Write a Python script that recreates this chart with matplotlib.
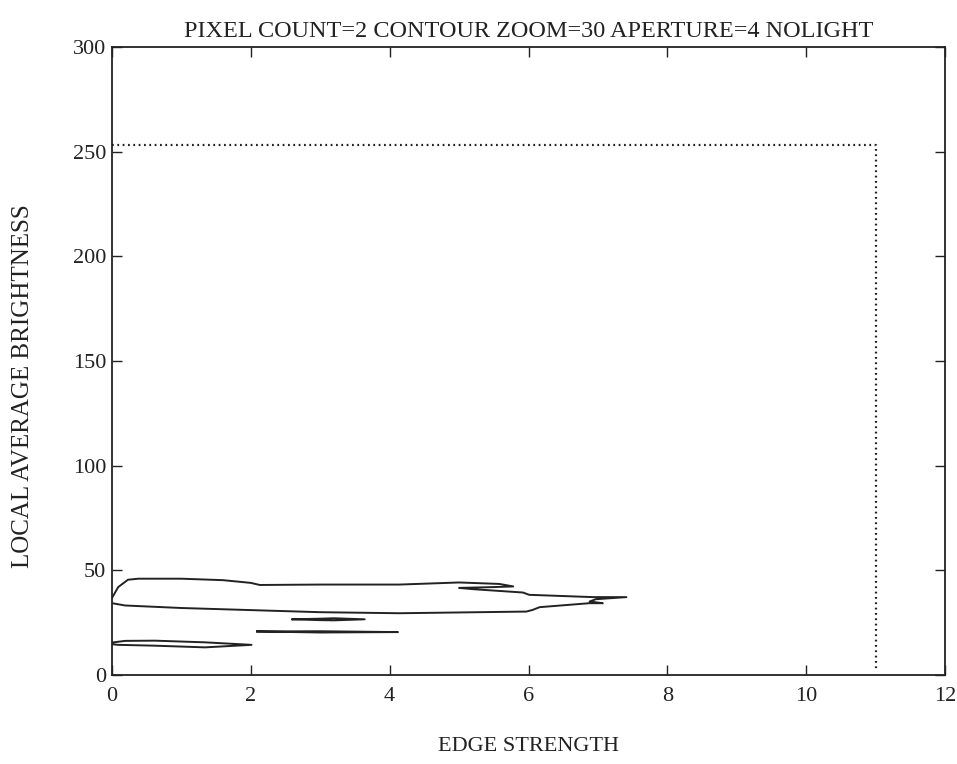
import numpy as np
import matplotlib.pyplot as plt

plt.rcParams["font.family"] = ["Liberation Serif", "DejaVu Serif"]

# main contour (open at the x=0 edge)
main_x = [0.0, 0.09, 0.23, 0.38, 1.0, 1.6, 2.0, 2.13, 3.0, 4.14, 5.0, 5.58, 5.78,
          5.5, 5.0, 5.2, 5.92, 6.01, 6.93, 7.41, 6.97, 6.88, 7.07, 6.88, 6.16,
          6.06, 5.97, 4.14, 3.0, 2.2, 1.0, 0.19, 0.0]
main_y = [36.8, 42.0, 45.5, 46.0, 46.0, 45.3, 44.0, 43.0, 43.2, 43.2, 44.2, 43.5, 42.3,
          42.0, 41.6, 41.0, 39.4, 38.3, 37.2, 37.2, 36.2, 35.1, 34.3, 34.3, 32.4,
          31.1, 30.3, 29.5, 30.0, 30.8, 32.0, 33.2, 34.3]

# bottom lens
low_x = [0.0, 0.19, 0.62, 1.34, 2.01, 1.34, 0.62, 0.09, 0.0]
low_y = [15.5, 16.3, 16.4, 15.6, 14.4, 13.2, 14.0, 14.4, 14.7]

# small loop around y=26
mid_x = [2.6, 3.0, 3.2, 3.64, 3.2, 3.0, 2.6]
mid_y = [26.6, 26.9, 27.1, 26.6, 26.1, 26.2, 26.6]

# thin loop around y=20
thin_x = [2.09, 3.0, 4.12, 3.0, 2.09]
thin_y = [20.8, 20.9, 20.5, 20.3, 20.8]

# dotted limit
lim_x = [0, 11, 11]
lim_y = [253, 253, 3]

fig = plt.figure(figsize=(9.57, 7.64), dpi=100)
ax = fig.add_axes([0.117, 0.1165, 0.8705, 0.822])

for xs, ys in [(main_x, main_y), (low_x, low_y), (mid_x, mid_y), (thin_x, thin_y)]:
    ax.plot(xs, ys, color="#222222", lw=1.4)
ax.plot(lim_x, lim_y, color="#222222", lw=1.6, linestyle=(0, (0.8, 1.6)))

ax.set_xlim(0, 12)
ax.set_ylim(0, 300)
ax.set_xticks(np.arange(0, 13, 2))
ax.set_yticks(np.arange(0, 301, 50))
ax.tick_params(direction="in", length=7, width=1, top=True, right=True,
               labelsize=16, pad=4, colors="#222222")
ax.tick_params(axis="x", pad=9)
for s in ax.spines.values():
    s.set_linewidth(1.3)
    s.set_color("#222222")

ax.set_title("PIXEL COUNT=2 CONTOUR ZOOM=30 APERTURE=4 NOLIGHT", fontsize=17.5, pad=7, color="#222222")
ax.set_xlabel("EDGE STRENGTH", fontsize=16, labelpad=22, color="#222222")
ax.set_ylabel("LOCAL AVERAGE BRIGHTNESS", fontsize=18, color="#222222")
ax.yaxis.set_label_coords(-0.094, 0.46)

fig.savefig("out.png", dpi=100)
